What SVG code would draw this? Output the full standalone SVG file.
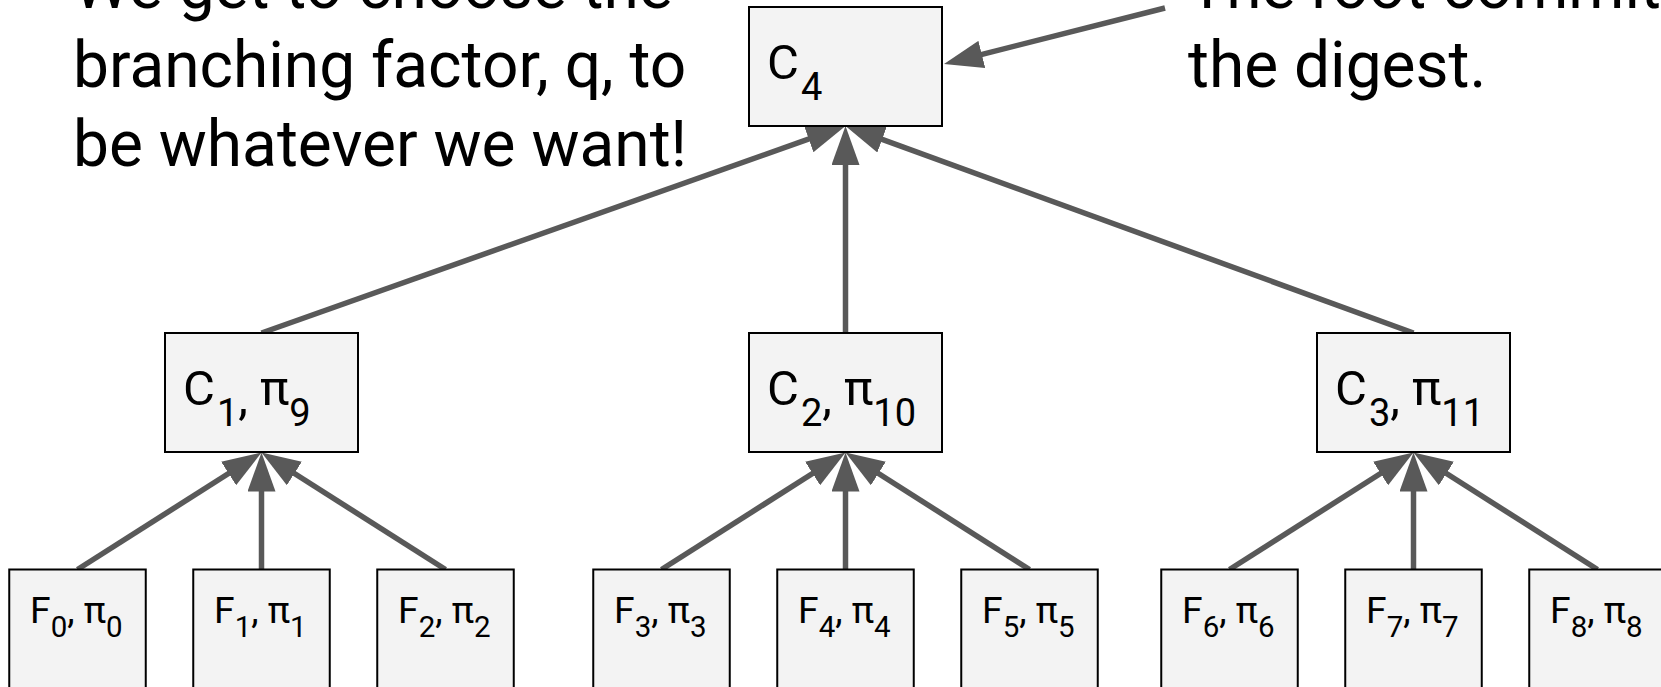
<svg xmlns="http://www.w3.org/2000/svg" width="1661" height="687" viewBox="0 0 1661 687">
<style>
.box{fill:#f3f3f3;stroke:#000;stroke-width:2}
.big{font-family:Roboto,"Liberation Sans",sans-serif;font-size:64px;fill:#000}
.lbl{font-family:Roboto,"Liberation Sans",sans-serif;font-size:49px;fill:#000}
.lbl .sub{font-size:38px}
.leaf{font-family:Roboto,"Liberation Sans",sans-serif;font-size:37.3px;fill:#000}
.leaf .sub{font-size:29.5px}
.conn line{stroke:#595959;stroke-width:5.5;fill:none}
</style>
<defs>
<marker id="ah" markerUnits="userSpaceOnUse" markerWidth="40" markerHeight="28" refX="19" refY="14" orient="auto">
<path d="M0,0 L39,14 L0,28 z" fill="#595959"/>
</marker>
</defs>
<rect width="1661" height="687" fill="#fff"/>
<g id="note-left">
<text class="big" x="73" y="8">We get to choose the</text>
<text class="big" x="73" y="87">branching factor, q, to</text>
<text class="big" x="73" y="166">be whatever we want!</text>
</g>
<g id="note-right">
<text class="big" x="1188" y="8">The root commitment is</text>
<text class="big" x="1188" y="87">the digest.</text>
</g>
<g class="conn" id="connectors">
<line x1="1165" y1="8" x2="963.4" y2="59.1" marker-end="url(#ah)"/>
<line x1="261.5" y1="333" x2="826.65" y2="132.68" marker-end="url(#ah)"/>
<line x1="845.5" y1="333" x2="845.5" y2="146" marker-end="url(#ah)"/>
<line x1="1413.5" y1="333" x2="864.29" y2="132.85" marker-end="url(#ah)"/>
<line x1="77.5" y1="569.5" x2="244.64" y2="463.26" marker-end="url(#ah)"/>
<line x1="261.5" y1="569.5" x2="261.5" y2="472.5" marker-end="url(#ah)"/>
<line x1="445.5" y1="569.5" x2="278.36" y2="463.26" marker-end="url(#ah)"/>
<line x1="661.5" y1="569.5" x2="828.64" y2="463.26" marker-end="url(#ah)"/>
<line x1="845.5" y1="569.5" x2="845.5" y2="472.5" marker-end="url(#ah)"/>
<line x1="1029.5" y1="569.5" x2="862.36" y2="463.26" marker-end="url(#ah)"/>
<line x1="1229.5" y1="569.5" x2="1396.64" y2="463.26" marker-end="url(#ah)"/>
<line x1="1413.5" y1="569.5" x2="1413.5" y2="472.5" marker-end="url(#ah)"/>
<line x1="1597.5" y1="569.5" x2="1430.36" y2="463.26" marker-end="url(#ah)"/>
</g>
<g id="C4"><rect class="box" x="749" y="7" width="193" height="119"/>
<text class="lbl" x="767" y="79">C<tspan class="sub" dx="2" dy="21">4</tspan></text></g>
<g id="C1"><rect class="box" x="165" y="333" width="193" height="119"/>
<text class="lbl" x="183" y="405">C<tspan class="sub" dx="2" dy="21">1</tspan><tspan dy="-12">,</tspan><tspan dy="-9"> π</tspan><tspan class="sub" dy="21">9</tspan></text></g>
<g id="C2"><rect class="box" x="749" y="333" width="193" height="119"/>
<text class="lbl" x="767" y="405">C<tspan class="sub" dx="2" dy="21">2</tspan><tspan dy="-12">,</tspan><tspan dy="-9"> π</tspan><tspan class="sub" dy="21">10</tspan></text></g>
<g id="C3"><rect class="box" x="1317" y="333" width="193" height="119"/>
<text class="lbl" x="1335" y="405">C<tspan class="sub" dx="2" dy="21">3</tspan><tspan dy="-12">,</tspan><tspan dy="-9"> π</tspan><tspan class="sub" dy="21">11</tspan></text></g>
<g id="F0"><rect class="box" x="9.25" y="569.5" width="136.5" height="140"/>
<text class="leaf" x="30" y="623">F<tspan class="sub" dy="14">0</tspan><tspan dy="-14">, π</tspan><tspan class="sub" dy="14">0</tspan></text></g>
<g id="F1"><rect class="box" x="193.25" y="569.5" width="136.5" height="140"/>
<text class="leaf" x="214" y="623">F<tspan class="sub" dy="14">1</tspan><tspan dy="-14">, π</tspan><tspan class="sub" dy="14">1</tspan></text></g>
<g id="F2"><rect class="box" x="377.25" y="569.5" width="136.5" height="140"/>
<text class="leaf" x="398" y="623">F<tspan class="sub" dy="14">2</tspan><tspan dy="-14">, π</tspan><tspan class="sub" dy="14">2</tspan></text></g>
<g id="F3"><rect class="box" x="593.25" y="569.5" width="136.5" height="140"/>
<text class="leaf" x="614" y="623">F<tspan class="sub" dy="14">3</tspan><tspan dy="-14">, π</tspan><tspan class="sub" dy="14">3</tspan></text></g>
<g id="F4"><rect class="box" x="777.25" y="569.5" width="136.5" height="140"/>
<text class="leaf" x="798" y="623">F<tspan class="sub" dy="14">4</tspan><tspan dy="-14">, π</tspan><tspan class="sub" dy="14">4</tspan></text></g>
<g id="F5"><rect class="box" x="961.25" y="569.5" width="136.5" height="140"/>
<text class="leaf" x="982" y="623">F<tspan class="sub" dy="14">5</tspan><tspan dy="-14">, π</tspan><tspan class="sub" dy="14">5</tspan></text></g>
<g id="F6"><rect class="box" x="1161.25" y="569.5" width="136.5" height="140"/>
<text class="leaf" x="1182" y="623">F<tspan class="sub" dy="14">6</tspan><tspan dy="-14">, π</tspan><tspan class="sub" dy="14">6</tspan></text></g>
<g id="F7"><rect class="box" x="1345.25" y="569.5" width="136.5" height="140"/>
<text class="leaf" x="1366" y="623">F<tspan class="sub" dy="14">7</tspan><tspan dy="-14">, π</tspan><tspan class="sub" dy="14">7</tspan></text></g>
<g id="F8"><rect class="box" x="1529.25" y="569.5" width="136.5" height="140"/>
<text class="leaf" x="1550" y="623">F<tspan class="sub" dy="14">8</tspan><tspan dy="-14">, π</tspan><tspan class="sub" dy="14">8</tspan></text></g>
</svg>
